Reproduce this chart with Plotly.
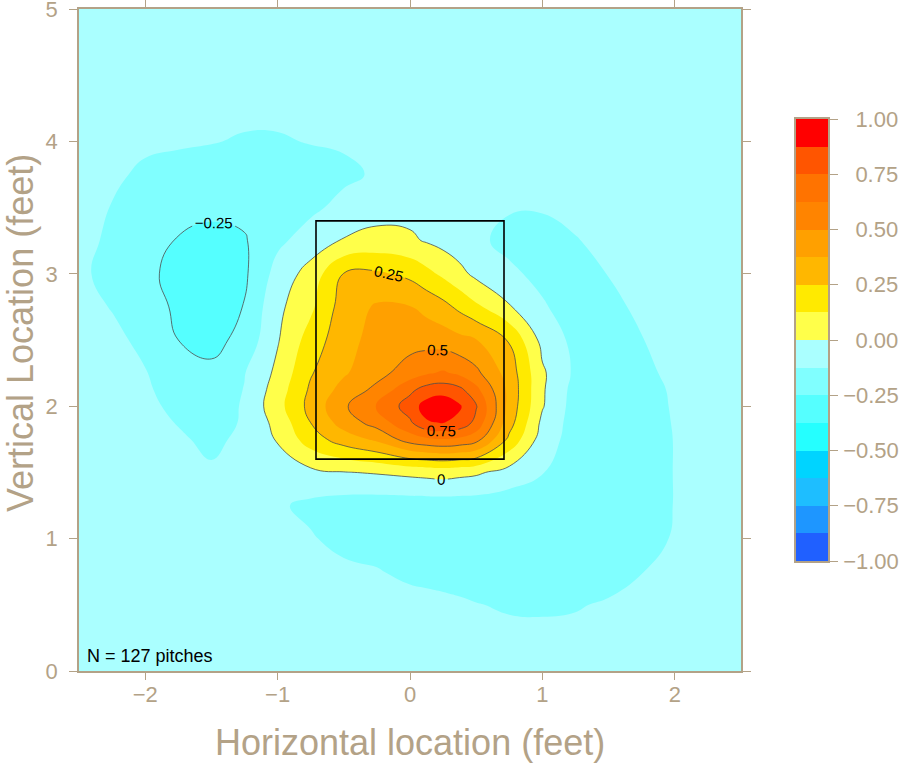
import plotly.graph_objects as go

# ---------------- data ----------------
x_vals = [-2.5, -2.25, -2.0, -1.75, -1.5, -1.25, -1.0, -0.75, -0.5, -0.25, 0.0, 0.125,
          0.25, 0.375, 0.5, 0.75, 1.0, 1.25, 1.5, 1.75, 2.0, 2.25, 2.5]
y_vals = [0.0, 0.25, 0.5, 0.75, 1.0, 1.25, 1.5, 1.75, 1.875, 2.0, 2.125, 2.25, 2.5,
          2.75, 3.0, 3.25, 3.5, 3.75, 4.0, 4.25, 4.5, 4.75, 5.0]

# estimated z (rows = y_vals, columns = x_vals)
z_vals = [
    [-0.04, -0.04, -0.04, -0.04, -0.04, -0.04, -0.04, -0.04, -0.04, -0.04, -0.05, -0.05, -0.05, -0.05, -0.05, -0.06, -0.06, -0.06, -0.05, -0.05, -0.04, -0.04, -0.04],
    [-0.05, -0.05, -0.05, -0.05, -0.05, -0.05, -0.05, -0.05, -0.05, -0.05, -0.06, -0.065, -0.07, -0.075, -0.08, -0.09, -0.09, -0.09, -0.08, -0.07, -0.06, -0.05, -0.05],
    [-0.05, -0.05, -0.05, -0.05, -0.05, -0.05, -0.05, -0.05, -0.05, -0.06, -0.07, -0.08, -0.09, -0.105, -0.12, -0.14, -0.145, -0.135, -0.11, -0.08, -0.06, -0.05, -0.05],
    [-0.05, -0.05, -0.05, -0.05, -0.05, -0.06, -0.07, -0.08, -0.10, -0.115, -0.16, -0.17, -0.18, -0.185, -0.19, -0.20, -0.20, -0.20, -0.18, -0.128, -0.09, -0.07, -0.06],
    [-0.05, -0.05, -0.06, -0.06, -0.07, -0.08, -0.09, -0.115, -0.16, -0.19, -0.20, -0.205, -0.21, -0.215, -0.22, -0.22, -0.22, -0.22, -0.21, -0.19, -0.11, -0.08, -0.06],
    [-0.06, -0.06, -0.06, -0.07, -0.08, -0.09, -0.11, -0.15, -0.18, -0.19, -0.19, -0.19, -0.19, -0.19, -0.19, -0.20, -0.21, -0.21, -0.21, -0.20, -0.12, -0.08, -0.06],
    [-0.06, -0.06, -0.07, -0.09, -0.11, -0.09, -0.06, -0.03, -0.005, 0.01, 0.03, 0.04, 0.05, 0.035, 0.02, -0.05, -0.12, -0.19, -0.21, -0.20, -0.12, -0.08, -0.06],
    [-0.06, -0.07, -0.08, -0.11, -0.15, -0.10, 0.01, 0.19, 0.31, 0.40, 0.56, 0.60, 0.62, 0.60, 0.55, 0.22, -0.06, -0.18, -0.21, -0.20, -0.12, -0.08, -0.06],
    [-0.06, -0.07, -0.09, -0.13, -0.18, -0.11, 0.04, 0.25, 0.43, 0.55, 0.73, 0.86, 0.88, 0.84, 0.71, 0.30, -0.03, -0.18, -0.21, -0.20, -0.115, -0.075, -0.06],
    [-0.06, -0.07, -0.10, -0.15, -0.20, -0.11, 0.08, 0.29, 0.48, 0.63, 0.81, 0.93, 0.97, 0.89, 0.76, 0.33, 0.01, -0.18, -0.21, -0.19, -0.11, -0.07, -0.06],
    [-0.065, -0.08, -0.11, -0.17, -0.21, -0.12, 0.06, 0.27, 0.42, 0.53, 0.72, 0.80, 0.82, 0.78, 0.66, 0.34, 0.015, -0.17, -0.21, -0.18, -0.105, -0.07, -0.06],
    [-0.07, -0.09, -0.12, -0.18, -0.22, -0.13, 0.03, 0.24, 0.36, 0.46, 0.56, 0.61, 0.64, 0.60, 0.53, 0.32, 0.02, -0.15, -0.21, -0.15, -0.10, -0.07, -0.06],
    [-0.08, -0.10, -0.15, -0.25, -0.29, -0.21, -0.01, 0.18, 0.33, 0.42, 0.45, 0.45, 0.44, 0.41, 0.38, 0.24, -0.04, -0.16, -0.20, -0.13, -0.08, -0.06, -0.06],
    [-0.09, -0.13, -0.20, -0.27, -0.31, -0.245, -0.03, 0.10, 0.31, 0.39, 0.38, 0.34, 0.29, 0.22, 0.15, 0.01, -0.11, -0.19, -0.17, -0.09, -0.07, -0.06, -0.06],
    [-0.11, -0.15, -0.22, -0.29, -0.31, -0.27, -0.08, 0.05, 0.255, 0.27, 0.22, 0.16, 0.10, 0.035, -0.03, -0.10, -0.16, -0.19, -0.12, -0.08, -0.07, -0.06, -0.06],
    [-0.10, -0.14, -0.18, -0.26, -0.29, -0.26, -0.15, -0.07, 0.01, 0.04, 0.02, -0.01, -0.04, -0.07, -0.10, -0.16, -0.17, -0.13, -0.10, -0.08, -0.07, -0.06, -0.06],
    [-0.08, -0.13, -0.17, -0.20, -0.22, -0.22, -0.20, -0.15, -0.09, -0.05, -0.04, -0.05, -0.06, -0.075, -0.09, -0.115, -0.115, -0.10, -0.08, -0.06, -0.05, -0.05, -0.05],
    [-0.07, -0.10, -0.15, -0.17, -0.18, -0.18, -0.18, -0.17, -0.15, -0.11, -0.07, -0.06, -0.05, -0.05, -0.05, -0.06, -0.06, -0.06, -0.05, -0.05, -0.05, -0.05, -0.05],
    [-0.06, -0.08, -0.10, -0.11, -0.12, -0.135, -0.135, -0.12, -0.11, -0.09, -0.07, -0.065, -0.06, -0.055, -0.05, -0.05, -0.05, -0.05, -0.05, -0.05, -0.05, -0.05, -0.05],
    [-0.06, -0.07, -0.08, -0.09, -0.10, -0.10, -0.10, -0.09, -0.08, -0.07, -0.06, -0.055, -0.05, -0.05, -0.05, -0.05, -0.05, -0.05, -0.05, -0.05, -0.05, -0.05, -0.05],
    [-0.05, -0.06, -0.06, -0.07, -0.07, -0.07, -0.07, -0.07, -0.06, -0.06, -0.05, -0.05, -0.05, -0.05, -0.05, -0.05, -0.05, -0.05, -0.05, -0.05, -0.05, -0.05, -0.05],
    [-0.05, -0.05, -0.06, -0.06, -0.06, -0.06, -0.06, -0.06, -0.06, -0.05, -0.05, -0.05, -0.05, -0.05, -0.05, -0.05, -0.05, -0.05, -0.05, -0.05, -0.05, -0.05, -0.05],
    [-0.04, -0.04, -0.04, -0.04, -0.04, -0.04, -0.04, -0.04, -0.04, -0.04, -0.04, -0.04, -0.04, -0.04, -0.04, -0.04, -0.04, -0.04, -0.04, -0.04, -0.04, -0.04, -0.04],
]

level_breaks = [-1.0, -0.875, -0.75, -0.625, -0.5, -0.375, -0.25, -0.125, 0.0,
                0.125, 0.25, 0.375, 0.5, 0.625, 0.75, 0.875, 1.0]
band_colors = ["#2060ff", "#1e96ff", "#1ebeff", "#00d4ff", "#25ffff", "#55ffff",
               "#80ffff", "#aaffff", "#ffff4a", "#ffea00", "#ffb700", "#ffa000",
               "#ff8400", "#ff7300", "#ff5500", "#ff0000"]
cbar_ticks = [-1.0, -0.75, -0.5, -0.25, 0.0, 0.25, 0.5, 0.75, 1.0]
cbar_ticktext = ["\u22121.00", "\u22120.75", "\u22120.50", "\u22120.25", "\u20070.00",
                 "\u20070.25", "\u20070.50", "\u20070.75", "\u20071.00"]
x_ticks = [-2, -1, 0, 1, 2]
y_ticks = [0, 1, 2, 3, 4, 5]
zone_x = [-0.71, 0.71]
zone_z = [1.6, 3.4]
n_label = "N = 127 pitches"

# ---------------- styles ----------------
TAN = "#b3a287"
FONT = "Liberation Sans, Arial, sans-serif"
W, H = 900, 780
PX0, PX1, PY0, PY1 = 79, 741, 9, 671      # plot area in pixels
CB_X0, CB_X1, CB_Y0, CB_Y1 = 796, 828, 119, 561

n = len(band_colors)
colorscale = [[i / (n - 1), c] for i, c in enumerate(band_colors)]
band_centers = [(level_breaks[i] + level_breaks[i + 1]) / 2 for i in range(n)]

fig = go.Figure()

# filled contour
fig.add_trace(go.Contour(
    x=x_vals, y=y_vals, z=z_vals, xaxis="x", yaxis="y",
    contours=dict(start=level_breaks[1], end=level_breaks[-2],
                  size=level_breaks[1] - level_breaks[0],
                  coloring="fill", showlines=False),
    line=dict(width=0, smoothing=1.3),
    colorscale=colorscale, showscale=False, hoverinfo="skip"))

# labelled contour lines
fig.add_trace(go.Contour(
    x=x_vals, y=y_vals, z=z_vals, xaxis="x", yaxis="y",
    contours=dict(start=-0.25, end=0.75, size=0.25, coloring="none",
                  showlabels=True,
                  labelfont=dict(family=FONT, size=15, color="black")),
    line=dict(color="#4d4d4d", width=0.8, smoothing=1.3),
    showscale=False, hoverinfo="skip"))

# colour key
fig.add_trace(go.Heatmap(
    z=[[v] for v in band_centers], x=[0], y=band_centers,
    colorscale=colorscale, zmin=band_centers[0], zmax=band_centers[-1],
    showscale=False, hoverinfo="skip", xaxis="x3", yaxis="y3"))

axis_common = dict(showgrid=False, zeroline=False, showline=True, linecolor=TAN,
                   linewidth=1.5, ticks="outside", tickcolor=TAN, tickwidth=1.2,
                   automargin=False, ticklabeloverflow="allow",
                   tickfont=dict(family=FONT, size=22, color=TAN))

fig.update_layout(
    width=W, height=H,
    margin=dict(l=0, r=0, t=0, b=0),
    paper_bgcolor="white", plot_bgcolor="rgba(0,0,0,0)",
    showlegend=False,
    xaxis=dict(domain=[PX0 / W, PX1 / W], range=[-2.5, 2.5], anchor="y",
               tickvals=x_ticks, ticklen=7, mirror="allticks",
               ticklabelstandoff=-4, **axis_common),
    yaxis=dict(domain=[1 - PY1 / H, 1 - PY0 / H], range=[0, 5], anchor="x",
               tickvals=y_ticks, ticklen=8, mirror="allticks",
               ticklabelstandoff=7, **axis_common),
    xaxis3=dict(domain=[CB_X0 / W, CB_X1 / W], range=[-0.5, 0.5], anchor="y3",
                showgrid=False, zeroline=False, showline=True, linecolor=TAN,
                linewidth=1.5, mirror=True, showticklabels=False, ticks="",
                automargin=False),
    yaxis3=dict(domain=[1 - CB_Y1 / H, 1 - CB_Y0 / H], range=[-1, 1], anchor="x3",
                side="right", tickvals=cbar_ticks, ticktext=cbar_ticktext,
                ticklen=8, mirror=True, ticklabelstandoff=1, **axis_common),
    shapes=[dict(type="rect", xref="x", yref="y",
                 x0=zone_x[0], x1=zone_x[1], y0=zone_z[0], y1=zone_z[1],
                 line=dict(color="black", width=1.6), layer="above")],
    annotations=[
        dict(text=n_label, xref="x", yref="y", x=-2.455, y=0.115,
             xanchor="left", yanchor="middle", showarrow=False,
             font=dict(family=FONT, size=18, color="black")),
        dict(text="Horizontal location (feet)", xref="paper", yref="paper",
             x=410 / W, y=1 - 742 / H, xanchor="center", yanchor="middle",
             showarrow=False, font=dict(family=FONT, size=36, color=TAN)),
        dict(text="Vertical Location (feet)", xref="paper", yref="paper",
             x=20 / W, y=1 - 333 / H, xanchor="center", yanchor="middle",
             textangle=-90, showarrow=False,
             font=dict(family=FONT, size=36, color=TAN)),
    ],
)

fig.write_html("out.html")
